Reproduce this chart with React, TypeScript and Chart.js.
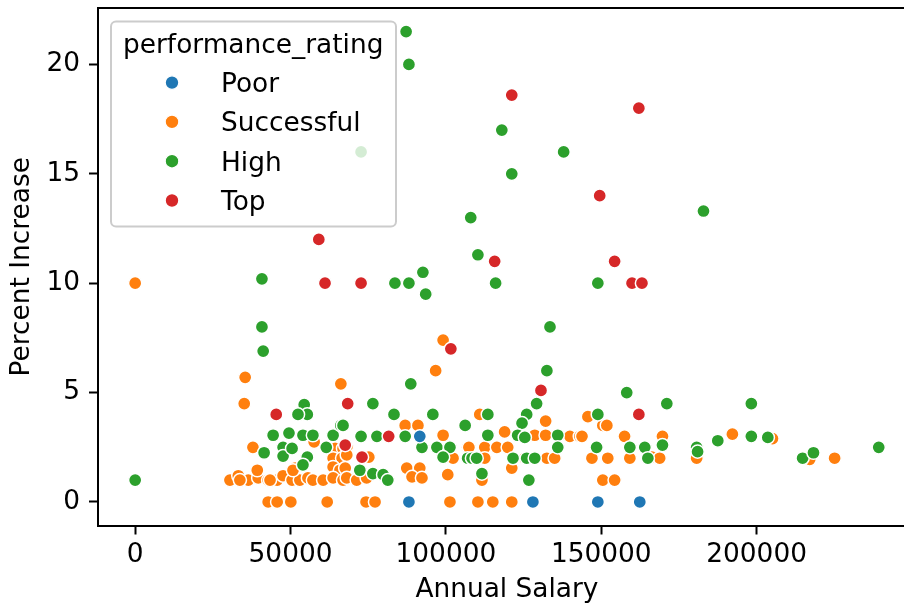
import React, { useEffect, useRef } from "react";
import { Chart, registerables } from "chart.js";

Chart.register(...registerables);

// ---------- data ----------
const categories = ["Poor", "Successful", "High", "Top"];
const colors = ["#1f77b4", "#ff7f0e", "#2ca02c", "#d62728"];

const poorSalary = [88100, 91600, 128000, 148900, 162400];
const poorIncrease = [0, 3.0, 0, 0, 0];

const successfulSalary = [
  0, 35100, 35400, 66200, 37900, 57600, 61800, 64300, 66900, 63700, 66600, 51500, 63700, 65900,
  30500, 33200, 36400, 39600, 42800, 45700, 47600, 50500, 53000, 55600, 57200, 60500, 63700, 66900,
  39300, 50800, 42800, 45700, 50100, 61800, 86900, 91000, 99100, 68100, 68100, 75200, 92600, 107000,
  102300, 87400, 91600, 67600, 68100, 71300, 74500, 89100, 92300, 100600, 74300, 77200, 101300,
  132100, 118900, 128600, 132100, 139900, 143100, 107400, 112500, 116400, 119900, 112500, 125400,
  132500, 135000, 121200, 111600, 110300, 115100, 121200, 145700, 150500, 151800, 143800, 157500,
  169700, 147000, 152100, 159200, 166300, 168800, 180700, 150500, 154300, 192200, 205100, 217100,
  225100, 99100, 96700, 110900, 33700, 43400,
];
const successfulIncrease = [
  10.0, 4.5, 5.7, 5.4, 2.5, 2.75, 2.5, 2.45, 2.45, 2.0, 2.0, 1.55, 1.6, 1.45,
  1.0, 1.2, 1.0, 1.1, 1.0, 1.0, 1.2, 1.0, 1.0, 1.1, 1.0, 1.0, 1.1, 1.0,
  1.45, 1.45, 0, 0, 0, 0, 3.5, 3.5, 3.05, 2.5, 2.15, 2.05, 2.5, 2.5,
  2.0, 1.55, 1.55, 1.55, 1.1, 1.0, 1.1, 1.15, 1.1, 1.25, 0, 0, 0,
  3.7, 3.2, 3.05, 3.05, 3.0, 3.0, 2.5, 2.5, 2.5, 2.5, 2.0, 2.0,
  2.0, 2.0, 1.55, 1.0, 0, 0, 0, 3.9, 3.5, 3.5, 3.0, 3.0,
  3.0, 2.0, 2.0, 2.0, 2.05, 2.0, 2.0, 1.0, 1.0, 3.1, 2.9, 1.95,
  2.0, 7.4, 6.0, 4.0, 1.0, 1.0,
];

const highSalary = [
  0, 54400, 55400, 52400, 44400, 49500, 54000, 57200, 63700, 66200, 41500, 47600, 47600, 50500,
  55400, 61500, 54000, 76500, 83300, 95800, 66900, 72700, 77800, 86900, 106200, 92300, 97100, 101300,
  99100, 107000, 72300, 76500, 79800, 81300, 129200, 126000, 113500, 124500, 113500, 123100, 125400,
  136000, 136000, 108400, 109900, 121600, 126000, 128600, 111600, 126700, 158200, 171100, 148900,
  159200, 164000, 169700, 180700, 181000, 148500, 165000, 198300, 187500, 198300, 203600, 214800,
  218300, 239300, 110300, 40800, 83600, 88100, 92600, 93500, 116000, 148900, 40800, 41200, 133500,
  132500, 88700, 87200, 88100, 118000, 137900, 121200, 182900, 108000, 72700,
];
const highIncrease = [
  1.0, 4.45, 4.0, 4.0, 3.05, 3.15, 3.05, 3.05, 3.05, 3.5, 2.25, 2.5, 2.1, 2.45,
  2.05, 2.5, 1.7, 4.5, 4.0, 4.0, 3.5, 3.0, 3.0, 3.0, 3.5, 2.5, 2.5, 2.5,
  2.05, 2.0, 1.45, 1.3, 1.25, 1.0, 4.5, 4.0, 4.0, 3.6, 3.05, 3.05, 2.95,
  3.05, 2.5, 2.0, 2.0, 2.0, 2.0, 2.0, 1.3, 1.0, 5.0, 4.5, 4.0,
  2.5, 2.5, 2.6, 2.5, 2.3, 2.5, 2.0, 4.5, 2.8, 3.0, 2.95, 2.0,
  2.25, 2.5, 11.3, 10.2, 10.0, 10.0, 10.5, 9.5, 10.0, 10.0, 8.0, 6.9, 8.0,
  6.0, 5.4, 21.5, 20.0, 17.0, 16.0, 15.0, 13.3, 13.0, 16.0,
];

const topSalary = [
  59100, 115700, 61100, 72700, 101600, 130600, 154300, 159900, 163100, 121200, 162100, 149500,
  45400, 68400, 67600, 81600, 73000, 162100,
];
const topIncrease = [
  12.0, 11.0, 10.0, 10.0, 7.0, 5.1, 11.0, 10.0, 10.0, 18.6, 18.0, 14.0,
  4.0, 4.5, 2.6, 3.0, 2.05, 4.0,
];

const xTicks = [0, 50000, 100000, 150000, 200000];
const yTicks = [0, 5, 10, 15, 20];

const legendTitle = "performance_rating";
const xTitle = "Annual Salary";
const yTitle = "Percent Increase";

// ---------- style ----------
const FONT_FAMILY = "'DejaVu Sans', 'Liberation Sans', sans-serif";
const FONT_SIZE = 26.4;

function toPoints(xs: number[], ys: number[]) {
  return xs.map((x, i) => ({ x, y: ys[i] }));
}

const decorPlugin = {
  id: "decor",
  afterDraw(chart: any) {
    const { ctx, chartArea: a } = chart;
    ctx.save();
    // top & right spines
    ctx.strokeStyle = "#000";
    ctx.lineWidth = 2;
    ctx.beginPath();
    ctx.moveTo(a.left - 1, a.top);
    ctx.lineTo(a.right, a.top);
    ctx.lineTo(a.right, a.bottom + 1);
    ctx.stroke();

    // legend
    const bx = a.left + 13;
    const by = a.top + 13.5;
    const bw = 285;
    const bh = 205;
    const r = 5;
    ctx.beginPath();
    ctx.moveTo(bx + r, by);
    ctx.lineTo(bx + bw - r, by);
    ctx.arcTo(bx + bw, by, bx + bw, by + r, r);
    ctx.lineTo(bx + bw, by + bh - r);
    ctx.arcTo(bx + bw, by + bh, bx + bw - r, by + bh, r);
    ctx.lineTo(bx + r, by + bh);
    ctx.arcTo(bx, by + bh, bx, by + bh - r, r);
    ctx.lineTo(bx, by + r);
    ctx.arcTo(bx, by, bx + r, by, r);
    ctx.closePath();
    ctx.fillStyle = "rgba(255,255,255,0.8)";
    ctx.fill();
    ctx.strokeStyle = "#cccccc";
    ctx.lineWidth = 2;
    ctx.stroke();

    ctx.fillStyle = "#000";
    ctx.font = `${FONT_SIZE}px ${FONT_FAMILY}`;
    ctx.textAlign = "left";
    ctx.textBaseline = "alphabetic";
    ctx.fillText(legendTitle, bx + 12, by + 31);

    categories.forEach((c, i) => {
      const cy = by + 61 + i * 39.3;
      ctx.beginPath();
      ctx.arc(bx + 61, cy, 6.8, 0, Math.PI * 2);
      ctx.fillStyle = colors[i];
      ctx.fill();
      ctx.lineWidth = 1.2;
      ctx.strokeStyle = "#fff";
      ctx.stroke();
      ctx.fillStyle = "#000";
      ctx.fillText(c, bx + 110, cy + 9.5);
    });
    ctx.restore();
  },
};

export default function App() {
  const canvasRef = useRef<HTMLCanvasElement | null>(null);

  useEffect(() => {
    if (!canvasRef.current) return;
    const font = { family: FONT_FAMILY, size: FONT_SIZE };
    const seriesX = [poorSalary, topSalary, highSalary, successfulSalary];
    const seriesY = [poorIncrease, topIncrease, highIncrease, successfulIncrease];
    const seriesIdx = [0, 3, 2, 1];
    const datasets = seriesIdx.map((ci, k) => ({
      label: categories[ci],
      data: toPoints(seriesX[k], seriesY[k]),
      backgroundColor: colors[ci],
      borderColor: "#ffffff",
      borderWidth: 1.5,
      pointRadius: 6.6,
      pointHoverRadius: 6.6,
      pointStyle: "circle",
    }));

    const chart = new Chart(canvasRef.current, {
      type: "scatter",
      data: { datasets },
      options: {
        animation: false,
        responsive: false,
        devicePixelRatio: window.devicePixelRatio || 1,
        events: [],
        layout: { padding: { left: 0, top: 7.5, right: 7.5, bottom: 0 } },
        plugins: {
          legend: { display: false },
          tooltip: { enabled: false },
        },
        scales: {
          x: {
            type: "linear",
            min: -11960,
            max: 251260,
            afterBuildTicks: (s: any) => {
              s.ticks = xTicks.map((v) => ({ value: v }));
            },
            afterFit: (s: any) => {
              s.height = 81.5;
              s.paddingLeft = 0;
              s.paddingRight = 0;
              s.paddingTop = 0;
              s.paddingBottom = 0;
            },
            grid: {
              drawOnChartArea: false,
              drawTicks: true,
              tickLength: 9,
              tickWidth: 2,
              tickColor: "#000",
            },
            border: { display: true, color: "#000", width: 2 },
            ticks: {
              color: "#000",
              font,
              padding: 5,
              maxRotation: 0,
              autoSkip: false,
              callback: (v: any) => String(v),
            },
            title: {
              display: true,
              text: xTitle,
              color: "#000",
              font,
              padding: { top: 0, bottom: 1 },
            },
          },
          y: {
            type: "linear",
            min: -1.075,
            max: 22.575,
            afterBuildTicks: (s: any) => {
              s.ticks = yTicks.map((v) => ({ value: v }));
            },
            afterFit: (s: any) => {
              s.width = 98;
              s.paddingLeft = 0;
              s.paddingRight = 0;
              s.paddingTop = 0;
              s.paddingBottom = 0;
            },
            grid: {
              drawOnChartArea: false,
              drawTicks: true,
              tickLength: 9,
              tickWidth: 2,
              tickColor: "#000",
            },
            border: { display: true, color: "#000", width: 2 },
            ticks: {
              color: "#000",
              font,
              padding: 9,
              callback: (v: any) => String(v),
            },
            title: {
              display: true,
              text: yTitle,
              color: "#000",
              font,
              padding: { top: 6, bottom: 0 },
            },
          },
        },
      },
      plugins: [decorPlugin],
    } as any);

    return () => chart.destroy();
  }, []);

  return (
    <div
      style={{
        position: "fixed",
        left: 0,
        top: 0,
        width: 904,
        height: 607,
        overflow: "hidden",
        background: "#fff",
      }}
    >
      <canvas ref={canvasRef} width={924} height={607} style={{ width: 924, height: 607, display: "block" }} />
    </div>
  );
}
